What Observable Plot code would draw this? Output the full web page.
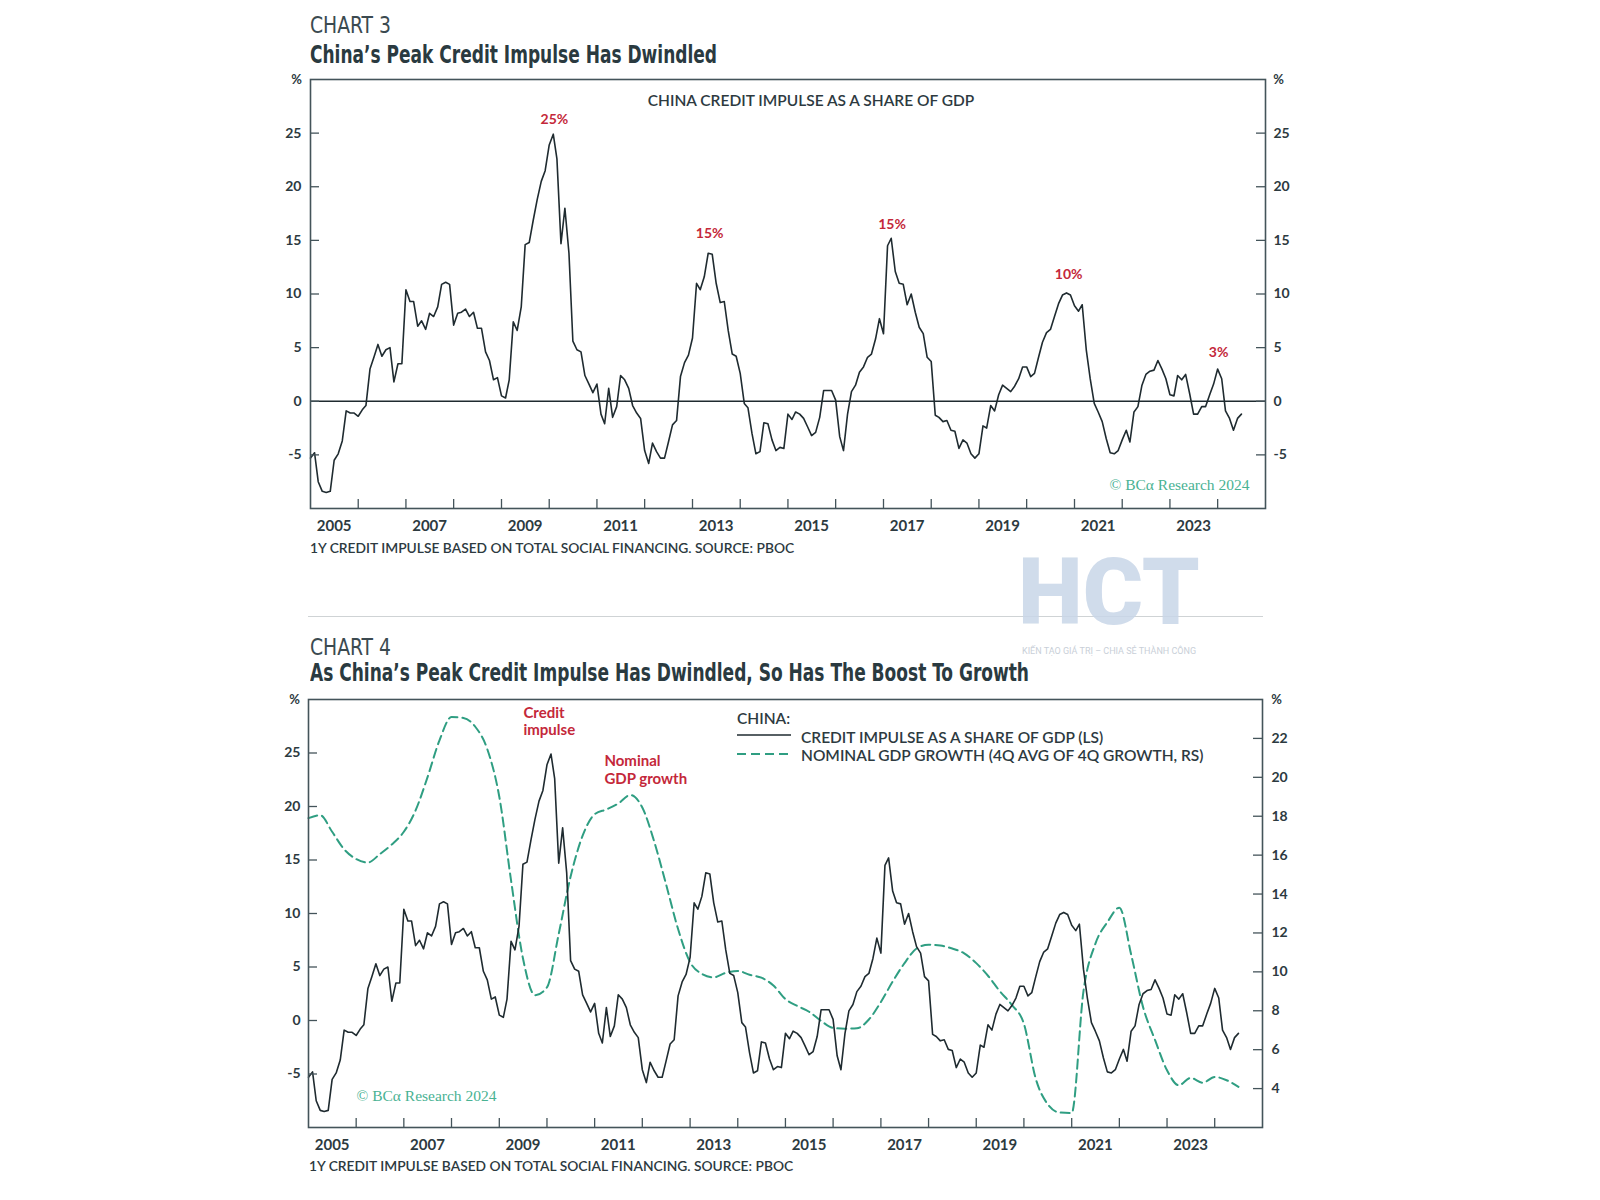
<!DOCTYPE html>
<html>
<head>
<meta charset="utf-8">
<script src="https://cdn.jsdelivr.net/npm/d3@7"></script>
<script src="https://cdn.jsdelivr.net/npm/@observablehq/plot@0.6"></script>
<style>
  html, body { margin:0; padding:0; background:#fff; }
  body { width:1600px; height:1200px; position:relative; overflow:hidden; }
  .t { position:absolute; white-space:nowrap; line-height:1; }
  .kicker { font-family:"Liberation Sans Narrow","DejaVu Sans Condensed","Roboto",sans-serif; font-stretch:condensed; font-size:23px; color:#3b4a50; }
  .title { font-family:"Liberation Sans Narrow","DejaVu Sans Condensed","Roboto",sans-serif; font-stretch:condensed; font-size:24px; font-weight:700; color:#2a3a40; }
  .caption { font-family:"Lato",sans-serif; font-size:13.8px; font-weight:600; color:#2d3a3f; }
  .legend { font-family:"Lato",sans-serif; font-size:15.5px; font-weight:600; color:#2d3a3f; }
  .plotbox { position:absolute; left:0; }
  .sep { position:absolute; left:308px; width:955px; top:616px; height:0; border-top:1px solid #cfd3d5; }
  .wm { position:absolute; font-family:"Roboto",sans-serif; font-weight:900; color:#c8d6e8; opacity:0.85; }
</style>
</head>
<body>
<div id="root"></div>
<script>
// ---------------- DATA ----------------
// China credit impulse as a share of GDP (%), monthly, Jan..Dec of each year
const ci2005 = [-5.3, -4.8, -7.5, -8.4, -8.5, -8.4, -5.5, -4.9, -3.7, -0.9, -1.1, -1.1];
const ci2006 = [-1.4, -0.8, -0.4, 3.0, 4.1, 5.3, 4.2, 4.8, 5.0, 1.8, 3.5, 3.5];
const ci2007 = [10.4, 9.3, 9.3, 7.0, 7.5, 6.7, 8.2, 7.9, 8.8, 10.9, 11.1, 10.9];
const ci2008 = [7.1, 8.2, 8.3, 8.6, 7.9, 8.3, 6.8, 6.8, 4.6, 3.8, 2.0, 2.2];
const ci2009 = [0.5, 0.3, 2.0, 7.4, 6.6, 8.8, 14.6, 14.8, 16.9, 18.8, 20.5, 21.5];
const ci2010 = [23.9, 24.9, 22.6, 14.7, 18.0, 13.8, 5.6, 4.8, 4.6, 2.4, 1.6, 0.8];
const ci2011 = [1.6, -1.2, -2.1, 1.2, -1.5, -0.5, 2.4, 2.0, 1.2, -0.4, -1.1, -1.6];
const ci2012 = [-4.6, -5.8, -3.9, -4.7, -5.3, -5.3, -3.8, -2.2, -1.8, 2.3, 3.6, 4.3];
const ci2013 = [5.9, 11.0, 10.4, 11.6, 13.8, 13.7, 11.0, 9.2, 9.3, 6.6, 4.4, 4.2];
const ci2014 = [2.6, -0.2, -0.6, -3.0, -4.9, -4.7, -2.0, -2.1, -3.6, -4.6, -4.3, -4.4];
const ci2015 = [-1.2, -1.7, -1.0, -1.2, -1.6, -2.4, -3.2, -2.9, -1.5, 1.0, 1.0, 1.0];
const ci2016 = [0.1, -3.3, -4.6, -1.2, 0.9, 1.5, 2.7, 3.2, 4.1, 4.4, 5.8, 7.7];
const ci2017 = [6.3, 14.5, 15.2, 12.1, 11.0, 10.9, 9.0, 10.0, 8.3, 6.9, 6.3, 4.1];
const ci2018 = [3.7, -1.3, -1.5, -1.9, -1.8, -2.7, -2.8, -4.4, -3.6, -3.9, -4.9, -5.3];
const ci2019 = [-4.9, -2.3, -2.5, -0.4, -0.9, 0.6, 1.5, 1.2, 0.9, 1.4, 2.1, 3.2];
const ci2020 = [3.2, 2.3, 2.6, 4.1, 5.5, 6.4, 6.7, 7.9, 9.1, 9.9, 10.1, 9.9];
const ci2021 = [8.9, 8.4, 9.0, 4.8, 2.1, -0.2, -1.0, -1.9, -3.5, -4.8, -4.9, -4.6];
const ci2022 = [-3.6, -2.7, -3.8, -1.0, -0.5, 1.5, 2.5, 2.8, 2.9, 3.8, 3.0, 2.1];
const ci2023 = [0.6, 0.5, 2.4, 2.0, 2.5, 0.7, -1.2, -1.2, -0.5, -0.5, 0.6, 1.6];
const ci2024 = [3.0, 2.1, -0.9, -1.6, -2.7, -1.6, -1.2];
const creditYears = [2005,2006,2007,2008,2009,2010,2011,2012,2013,2014,2015,2016,2017,2018,2019,2020,2021,2022,2023,2024];
const creditByYear = [ci2005,ci2006,ci2007,ci2008,ci2009,ci2010,ci2011,ci2012,ci2013,ci2014,ci2015,ci2016,ci2017,ci2018,ci2019,ci2020,ci2021,ci2022,ci2023,ci2024];

// Nominal GDP growth (4Q avg of 4Q growth, %), quarterly from 2005 Q1
const gdpStartYear = 2005;
const gdpGrowth = [
  17.9, 18.05, 17.2, 16.3,    // 2005
  15.8, 15.62, 16.05, 16.55,  // 2006
  17.2, 18.3, 20.0, 21.9,     // 2007
  23.1, 23.05, 22.6, 21.45,   // 2008
  19.0, 14.7, 10.7, 8.8,      // 2009
  9.2, 11.95, 14.9, 17.0,     // 2010
  18.1, 18.35, 18.65, 19.09,  // 2011
  18.45, 16.7, 14.5, 12.2,    // 2012
  10.5, 9.9, 9.72, 9.95,      // 2013
  10.05, 9.85, 9.7, 9.3,      // 2014
  8.6, 8.25, 7.95, 7.48,      // 2015
  7.12, 7.08, 7.1, 7.55,      // 2016
  8.45, 9.5, 10.45, 11.2,     // 2017
  11.4, 11.35, 11.2, 10.95,   // 2018
  10.45, 9.8, 9.0, 8.3,       // 2019
  7.33, 4.5, 3.2, 2.77,       // 2020
  2.75, 9.0, 11.44, 12.55,    // 2021
  13.3, 10.9, 8.2, 6.5,       // 2022
  4.94, 4.17, 4.55, 4.3,      // 2023
  4.6, 4.43, 4.09             // 2024
];

// Axis ticks and labels
const leftTicks = [-5, 0, 5, 10, 15, 20, 25];
const rightTicksGdp = [4, 6, 8, 10, 12, 14, 16, 18, 20, 22];
const labelYears = [2005, 2007, 2009, 2011, 2013, 2015, 2017, 2019, 2021, 2023];
const yearTickYears = [2006,2007,2008,2009,2010,2011,2012,2013,2014,2015,2016,2017,2018,2019,2020,2021,2022,2023,2024];

// Peak annotations (chart 3)
const peakText = ["25%", "15%", "15%", "10%", "3%"];
const peakDate = [[2010,1,10],[2013,4,12],[2017,2,7],[2020,10,17],[2024,0,8]];
const peakY = [26.3, 15.6, 16.5, 11.8, 4.5];

// Series annotations (chart 4)
const seriesNoteText = ["Credit\nimpulse", "Nominal\nGDP growth"];
const seriesNoteDate = [[2009,6,5],[2011,2,17]];
const seriesNoteY = [29.4, 24.9];

// ---------------- BUILD ----------------
const credit = [];
creditByYear.forEach((vals, yi) => vals.forEach((v, m) => credit.push({date: new Date(Date.UTC(creditYears[yi], m, 1)), value: v})));
const gdp = gdpGrowth.map((v, i) => ({date: new Date(Date.UTC(gdpStartYear, i * 3, 1)), value: v}));
const peaks = peakText.map((t, i) => ({text: t, date: new Date(Date.UTC(...peakDate[i])), y: peakY[i]}));
const notes = seriesNoteText.map((t, i) => ({text: t, date: new Date(Date.UTC(...seriesNoteDate[i])), y: seriesNoteY[i]}));
const labelDates = labelYears.map(y => new Date(Date.UTC(y, 6, 1)));
const yearTicks = yearTickYears.map(y => new Date(Date.UTC(y, 0, 1)));
const xDomain = [new Date(Date.UTC(2005, 0, 1)), new Date(Date.UTC(2025, 0, 1))];

const W = 1600;
const INK = "#1f2b30";
const FRAME = "#44545a";
const RED = "#c4283a";
const GREEN = "#2f9e82";
const COPY_GREEN = "#49b293";
const baseStyle = {fontFamily: "Lato, sans-serif", fontSize: "14px", fontWeight: 700, color: "#2d3a3f", background: "transparent", overflow: "visible"};

function place(node, top) {
  const d = document.createElement("div");
  d.className = "plotbox";
  d.style.top = top + "px";
  d.appendChild(node);
  document.getElementById("root").appendChild(d);
}

// Chart 3
(function () {
  const H = 500, mt = 19, mb = 52, ml = 310, mr = 335;
  const fw = W - ml - mr, fh = H - mt - mb;
  const p = Plot.plot({
    width: W, height: H, marginTop: mt, marginBottom: mb, marginLeft: ml, marginRight: mr,
    style: baseStyle,
    x: {type: "utc", domain: xDomain},
    y: {domain: [-10, 30]},
    marks: [
      Plot.ruleY([0], {stroke: INK, strokeWidth: 1.3}),
      Plot.line(credit, {x: "date", y: "value", stroke: INK, strokeWidth: 1.6}),
      Plot.tickY(leftTicks, {y: d => d, stroke: FRAME, strokeWidth: 1.3, insetRight: fw - 9}),
      Plot.tickY(leftTicks, {y: d => d, stroke: FRAME, strokeWidth: 1.3, insetLeft: fw - 9}),
      Plot.tickX(yearTicks, {x: d => d, stroke: FRAME, strokeWidth: 1.3, insetTop: fh - 9}),
      Plot.axisY({ticks: leftTicks, tickSize: 0, tickPadding: 9, tickFormat: d => String(d), label: null}),
      Plot.axisY({anchor: "right", ticks: leftTicks, tickSize: 0, tickPadding: 8, tickFormat: d => String(d), label: null}),
      Plot.axisX({ticks: labelDates, tickSize: 0, tickPadding: 12, tickFormat: d3.utcFormat("%Y"), fontSize: 15, label: null}),
      Plot.frame({stroke: FRAME, strokeWidth: 1.6}),
      Plot.text(["%"], {text: d => d, frameAnchor: "top-left", textAnchor: "middle", lineAnchor: "middle", dx: -14, dy: 0, fontSize: 13}),
      Plot.text(["%"], {text: d => d, frameAnchor: "top-right", textAnchor: "middle", lineAnchor: "middle", dx: 13, dy: 0, fontSize: 13}),
      Plot.text(["CHINA CREDIT IMPULSE AS A SHARE OF GDP"], {text: d => d, frameAnchor: "top", lineAnchor: "middle", dx: 23, dy: 22, fontSize: 15.5, fontWeight: 600, fill: "#2d3a3f"}),
      Plot.text(peaks, {x: "date", y: "y", text: "text", fill: RED, fontSize: 14, fontWeight: 700}),
      Plot.text(["© BCα Research 2024"], {text: d => d, frameAnchor: "bottom-right", dx: -16, dy: -19, textAnchor: "end", fill: COPY_GREEN, fontFamily: "Liberation Serif, serif", fontSize: 15.5, fontWeight: 400})
    ]
  });
  place(p, 60);
})();

// Chart 4: GDP layer (right scale)
(function () {
  const H = 500, mt = 19, mb = 53, ml = 308, mr = 338;
  const fw = W - ml - mr;
  const p = Plot.plot({
    width: W, height: H, marginTop: mt, marginBottom: mb, marginLeft: ml, marginRight: mr,
    style: baseStyle,
    x: {type: "utc", domain: xDomain, axis: null},
    y: {domain: [2, 24]},
    marks: [
      Plot.line(gdp, {x: "date", y: "value", stroke: GREEN, strokeWidth: 2, strokeDasharray: "9,5", curve: "monotone-x"}),
      Plot.tickY(rightTicksGdp, {y: d => d, stroke: FRAME, strokeWidth: 1.3, insetLeft: fw - 9}),
      Plot.axisY({anchor: "right", ticks: rightTicksGdp, tickSize: 0, tickPadding: 9, tickFormat: d => String(d), label: null})
    ]
  });
  place(p, 680);
})();

// Chart 4: credit impulse layer (left scale)
(function () {
  const H = 500, mt = 19, mb = 53, ml = 308, mr = 338;
  const fw = W - ml - mr, fh = H - mt - mb;
  const p = Plot.plot({
    width: W, height: H, marginTop: mt, marginBottom: mb, marginLeft: ml, marginRight: mr,
    style: baseStyle,
    x: {type: "utc", domain: xDomain},
    y: {domain: [-10, 30]},
    marks: [
      Plot.line(credit, {x: "date", y: "value", stroke: INK, strokeWidth: 1.6}),
      Plot.tickY(leftTicks, {y: d => d, stroke: FRAME, strokeWidth: 1.3, insetRight: fw - 9}),
      Plot.tickX(yearTicks, {x: d => d, stroke: FRAME, strokeWidth: 1.3, insetTop: fh - 9}),
      Plot.axisY({ticks: leftTicks, tickSize: 0, tickPadding: 8, tickFormat: d => String(d), label: null}),
      Plot.axisX({ticks: labelDates, tickSize: 0, tickPadding: 12, tickFormat: d3.utcFormat("%Y"), fontSize: 15, label: null}),
      Plot.frame({stroke: FRAME, strokeWidth: 1.6}),
      Plot.text(["%"], {text: d => d, frameAnchor: "top-left", textAnchor: "middle", lineAnchor: "middle", dx: -14, dy: 0, fontSize: 13}),
      Plot.text(["%"], {text: d => d, frameAnchor: "top-right", textAnchor: "middle", lineAnchor: "middle", dx: 14, dy: 0, fontSize: 13}),
      Plot.text(notes, {x: "date", y: "y", text: "text", textAnchor: "start", lineAnchor: "top", lineHeight: 1.15, fill: RED, fontSize: 15, fontWeight: 700}),
      Plot.text(["© BCα Research 2024"], {text: d => d, frameAnchor: "bottom-left", dx: 48, dy: -27, textAnchor: "start", fill: COPY_GREEN, fontFamily: "Liberation Serif, serif", fontSize: 15.5, fontWeight: 400})
    ]
  });
  place(p, 680);
})();

// ---------------- TEXT ----------------
function addText(cls, text, left, top, extra) {
  const d = document.createElement("div");
  d.className = "t " + cls;
  d.textContent = text;
  d.style.left = left + "px";
  d.style.top = top + "px";
  if (extra) Object.assign(d.style, extra);
  document.body.appendChild(d);
  return d;
}
function fitWidth(el, target) {
  const w = el.getBoundingClientRect().width;
  el.style.transformOrigin = "0 0";
  el.style.transform = "scaleX(" + (target / w) + ")";
}
fitWidth(addText("kicker", "CHART 3", 310, 14), 81);
fitWidth(addText("title", "China’s Peak Credit Impulse Has Dwindled", 310, 43), 407);
addText("caption", "1Y CREDIT IMPULSE BASED ON TOTAL SOCIAL FINANCING. SOURCE: PBOC", 310, 541);
const sep = document.createElement("div"); sep.className = "sep"; document.body.appendChild(sep);
fitWidth(addText("kicker", "CHART 4", 310, 636), 81);
fitWidth(addText("title", "As China’s Peak Credit Impulse Has Dwindled, So Has The Boost To Growth", 310, 661), 719);
addText("caption", "1Y CREDIT IMPULSE BASED ON TOTAL SOCIAL FINANCING. SOURCE: PBOC", 309, 1159);

// Legend (chart 4)
addText("legend", "CHINA:", 737, 711);
addText("legend", "CREDIT IMPULSE AS A SHARE OF GDP (LS)", 801, 730);
addText("legend", "NOMINAL GDP GROWTH (4Q AVG OF 4Q GROWTH, RS)", 801, 748);
const NS = "http://www.w3.org/2000/svg";
const lg = document.createElementNS(NS, "svg");
lg.setAttribute("width", 60); lg.setAttribute("height", 30);
lg.style.position = "absolute"; lg.style.left = "735px"; lg.style.top = "728px";
[[7, INK, 1.3, null], [26, GREEN, 2, "9,5"]].forEach(([yy, c, w, da]) => {
  const l = document.createElementNS(NS, "line");
  l.setAttribute("x1", 2); l.setAttribute("x2", 56); l.setAttribute("y1", yy); l.setAttribute("y2", yy);
  l.setAttribute("stroke", c); l.setAttribute("stroke-width", w);
  if (da) l.setAttribute("stroke-dasharray", da);
  lg.appendChild(l);
});
document.body.appendChild(lg);

// Watermark
addText("wm", "HCT", 1018, 556, {fontSize: "92px", lineHeight: "0.8"});
addText("", "KIẾN TẠO GIÁ TRỊ – CHIA SẺ THÀNH CÔNG", 1022, 647, {fontFamily: "Roboto, sans-serif", fontSize: "9px", color: "#c9cfd8"});
</script>
</body>
</html>
